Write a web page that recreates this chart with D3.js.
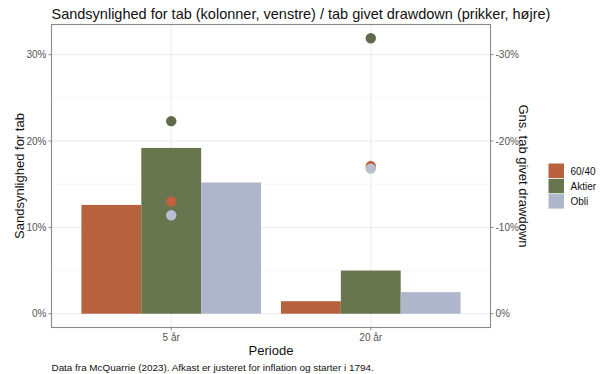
<!DOCTYPE html>
<html><head><meta charset="utf-8">
<script src="https://cdn.jsdelivr.net/npm/d3@7"></script>
<style>body{margin:0;background:#fff}svg{display:block;font-family:"Liberation Sans",Arial,sans-serif}</style>
</head><body><svg id="c" width="602" height="374"></svg>
<script>
const periods = ["5 år", "20 år"];
const series = ["60/40", "Aktier", "Obli"];
const colors = ["#B7613F", "#687650", "#AFB6CB"];
const dotColors = ["#C0613F", "#5F6B4A", "#B9BFD0"];
// probability of loss (columns, left axis), %
const lossProb = {"60/40": [12.6, 1.45], "Aktier": [19.2, 5.0], "Obli": [15.2, 2.5]};
// average loss given drawdown (dots, right axis), %
const avgLoss = {"60/40": [13.0, 17.1], "Aktier": [22.3, 31.9], "Obli": [11.4, 16.8]};
const yTicks = [0, 10, 20, 30];
const yMinor = [5, 15, 25];

const svg = d3.select("#c");
const L = 51.5, R = 490.5, T = 24.5, B = 327.5;
const maxV = 31.9;
const y = d3.scaleLinear().domain([-0.05 * maxV, 1.05 * maxV]).range([B, T]);
// ggplot-like discrete: centers at 0.6 and 1.6 units on 2.2 units
const unit = (R - L) / 2.2;
const xc = d => L + (0.6 + periods.indexOf(d)) * unit;
const xs = d3.scaleBand().domain(series).range([-0.45 * unit, 0.45 * unit]);

// grid
const g = svg.append("g");
g.selectAll(".mn").data(yMinor).join("line").attr("x1", L).attr("x2", R)
  .attr("y1", d => y(d)).attr("y2", d => y(d)).attr("stroke", "#f2f2f2").attr("stroke-width", 0.6);
g.selectAll(".mj").data(yTicks).join("line").attr("x1", L).attr("x2", R)
  .attr("y1", d => y(d)).attr("y2", d => y(d)).attr("stroke", "#ebebeb").attr("stroke-width", 1);
g.selectAll(".vx").data(periods).join("line").attr("y1", T).attr("y2", B)
  .attr("x1", d => xc(d)).attr("x2", d => xc(d)).attr("stroke", "#ebebeb").attr("stroke-width", 1);

// bars
const rows = [];
periods.forEach((p, i) => series.forEach((s, j) => rows.push({p, s, j, v: lossProb[s][i], d: avgLoss[s][i]})));
svg.append("g").selectAll("rect").data(rows).join("rect")
  .attr("x", d => xc(d.p) + xs(d.s)).attr("width", xs.bandwidth())
  .attr("y", d => y(d.v)).attr("height", d => y(0) - y(d.v)).attr("fill", d => colors[d.j]);

// dots
svg.append("g").selectAll("circle").data(rows).join("circle")
  .attr("cx", d => xc(d.p)).attr("cy", d => y(d.d)).attr("r", 5.2).attr("fill", d => dotColors[d.j]);

// border
svg.append("rect").attr("x", L).attr("y", T).attr("width", R - L).attr("height", B - T)
  .attr("fill", "none").attr("stroke", "#8a8a8a").attr("stroke-width", 1.1);

// axes
const fmt = d => d + "%";
const ax = svg.append("g").attr("font-size", 10).attr("fill", "#555");
ax.selectAll(".yl").data(yTicks).join("text").attr("x", L - 5).attr("y", d => y(d)).attr("dy", "0.35em")
  .attr("text-anchor", "end").text(fmt);
ax.selectAll(".yr").data(yTicks).join("text").attr("x", R + 5).attr("y", d => y(d)).attr("dy", "0.35em")
  .attr("text-anchor", "start").text(d => d === 0 ? "0%" : "-" + d + "%");
ax.selectAll(".xl").data(periods).join("text").attr("x", d => xc(d)).attr("y", B + 13)
  .attr("text-anchor", "middle").text(d => d);
ax.selectAll(".xt").data(periods).join("line").attr("x1", d => xc(d)).attr("x2", d => xc(d))
  .attr("y1", B).attr("y2", B + 3).attr("stroke", "#8a8a8a");
ax.selectAll(".ytl").data(yTicks).join("line").attr("x1", L - 3).attr("x2", L)
  .attr("y1", d => y(d)).attr("y2", d => y(d)).attr("stroke", "#8a8a8a");
ax.selectAll(".ytr").data(yTicks).join("line").attr("x1", R).attr("x2", R + 3)
  .attr("y1", d => y(d)).attr("y2", d => y(d)).attr("stroke", "#8a8a8a");

// titles
const midY = (T + B) / 2;
svg.append("text").attr("x", L).attr("y", 19).attr("font-size", 14.5).attr("fill", "#111")
  .text("Sandsynlighed for tab (kolonner, venstre) / tab givet drawdown (prikker, højre)");
svg.append("text").attr("transform", `translate(24,${midY}) rotate(-90)`).attr("text-anchor", "middle")
  .attr("font-size", 13).attr("fill", "#111").text("Sandsynlighed for tab");
svg.append("text").attr("transform", `translate(519,${midY}) rotate(90)`).attr("text-anchor", "middle")
  .attr("font-size", 13).attr("fill", "#111").text("Gns. tab givet drawdown");
svg.append("text").attr("x", (L + R) / 2).attr("y", 355).attr("text-anchor", "middle")
  .attr("font-size", 13).attr("fill", "#111").text("Periode");
svg.append("text").attr("x", L).attr("y", 371).attr("font-size", 9.9).attr("fill", "#111")
  .text("Data fra McQuarrie (2023). Afkast er justeret for inflation og starter i 1794.");

// legend
const lg = svg.append("g").attr("transform", "translate(548.5,163.5)");
const kh = 15.3;
lg.selectAll("rect").data(series).join("rect").attr("x", 0).attr("y", (d, i) => i * kh)
  .attr("width", 15.5).attr("height", kh - 0.8).attr("fill", (d, i) => colors[i]);
lg.selectAll("text").data(series).join("text").attr("x", 22).attr("y", (d, i) => i * kh + kh / 2)
  .attr("dy", "0.35em").attr("font-size", 10).attr("fill", "#111").text(d => d);
</script></body></html>
